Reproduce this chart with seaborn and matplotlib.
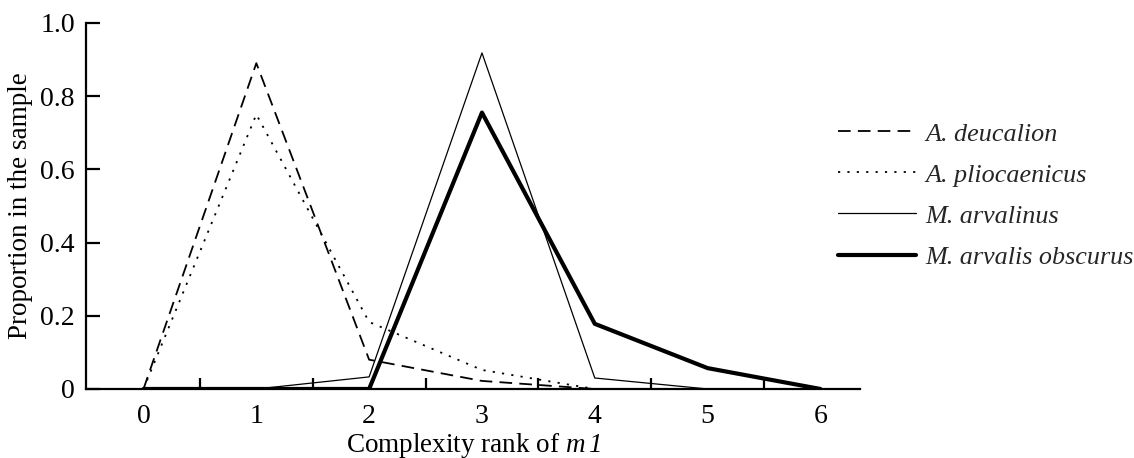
import matplotlib
matplotlib.use("Agg")
import matplotlib.pyplot as plt
import seaborn as sns
import numpy as np

# Data
ranks = [0, 1, 2, 3, 4, 5, 6]
deucalion = [0, 0.89, 0.08, 0.022, 0, 0, 0]
pliocaenicus = [0, 0.75, 0.183, 0.052, 0, 0, 0]
arvalinus = [0, 0, 0.033, 0.918, 0.03, 0, 0]
obscurus = [0, 0, 0, 0.755, 0.178, 0.057, 0]
names = ["A. deucalion", "A. pliocaenicus", "M. arvalinus", "M. arvalis obscurus"]

sns.set_theme(style="white")
plt.rcParams['font.family'] = ['Liberation Serif', 'DejaVu Serif']
# mathtext only used for the italic "m1" in the x label
plt.rcParams['mathtext.fontset'] = 'custom'
plt.rcParams['mathtext.it'] = 'Liberation Serif:italic'
plt.rcParams['mathtext.rm'] = 'Liberation Serif:italic'

fig = plt.figure(figsize=(11.34, 4.58), dpi=100)
ax = fig.add_axes([0.0758, 0.1507, 0.6825, 0.7993])

sns.lineplot(x=ranks, y=deucalion, ax=ax, color="black", lw=1.3, label=names[0])
ax.lines[-1].set_dashes([7, 4])
sns.lineplot(x=ranks, y=pliocaenicus, ax=ax, color="black", lw=1.3, label=names[1])
ax.lines[-1].set_dashes([1.2, 4])
sns.lineplot(x=ranks, y=arvalinus, ax=ax, color="black", lw=0.9, label=names[2])
sns.lineplot(x=ranks, y=obscurus, ax=ax, color="black", lw=3, label=names[3])
ax.get_legend().remove()

ax.set_xlim(-0.51, 6.35)
ax.set_ylim(0, 1.0)
sns.despine(ax=ax)
for s in ["left", "bottom"]:
    ax.spines[s].set_linewidth(1.6)
    ax.spines[s].set_color("black")

ax.set_xticks(ranks)
ax.set_xticks(np.arange(0.5, 6, 1), minor=True)
ax.tick_params(axis="x", which="major", length=0, labelsize=20, pad=11, colors="black")
ax.tick_params(axis="x", which="minor", direction="in", length=8, width=1.6, bottom=True, color="black")
ax.set_yticks([0, 0.2, 0.4, 0.6, 0.8, 1.0])
ax.set_yticklabels(["0", "0.2", "0.4", "0.6", "0.8", "1.0"])
ax.tick_params(axis="y", which="major", direction="in", length=10, width=1.6, left=True,
               labelsize=20, pad=8, colors="black")

ax.set_xlabel("Complexity rank of $m\\,1$", fontsize=19.5, color="black", labelpad=1)
ax.set_ylabel("Proportion in the sample", fontsize=19.5, color="black", labelpad=5)

handles = ax.get_lines()[:4]
fig.legend(handles, names, loc="upper left", bbox_to_anchor=(0.739, 0.733),
           frameon=False, prop={"style": "italic", "size": 18.8},
           handlelength=3.0, handletextpad=0.33, labelspacing=0.68,
           borderpad=0, borderaxespad=0)

fig.savefig("out.png", dpi=100)
